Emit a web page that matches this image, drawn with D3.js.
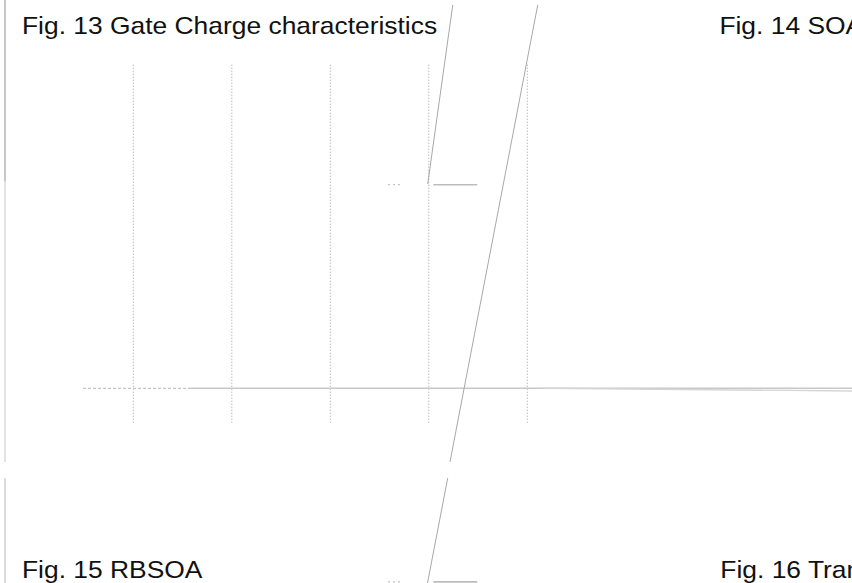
<!DOCTYPE html>
<html>
<head>
<meta charset="utf-8">
<script src="https://cdn.jsdelivr.net/npm/d3@7"></script>
<style>
  html, body { margin: 0; padding: 0; background: #fff; }
  svg { display: block; }
  text { font-family: "Liberation Sans", Arial, sans-serif; fill: #111; }
</style>
</head>
<body>
<svg id="page" width="852" height="583"></svg>
<script>
// Figure captions
const captions = [
  { text: "Fig. 13 Gate Charge characteristics", u: -0.13, v: 17.4 },
  { text: "Fig. 14 SOA", u: 6.95, v: 17.4 },
  { text: "Fig. 15 RBSOA", u: -0.13, v: -9.3 },
  { text: "Fig. 16 Transient Thermal Impedance", u: 6.96, v: -9.3 }
];

// Vertical grid positions (charge axis units)
const gridValues = [1, 2, 3, 4, 5];
const gridExtent = [-1.7, 15.9];

// Gate-voltage trace pieces: [u, v] pairs
const baselineDashed = [[0.49, 0], [1.555, 0]];
const baselineSolid = [[1.555, 0], [8.3, 0]];
const baselineTail = [[5.16, 0], [8.3, -0.13]];
const plateauDashes = [[3.586, 10.0], [3.735, 10.0]];
const plateauSolid = [[4.046, 10.0], [4.492, 10.0]];
const plateauDashesLow = [[3.586, -9.51], [3.735, -9.51]];
const plateauSolidLow = [[4.046, -9.51], [4.492, -9.51]];
const riseA = [[4.243, 18.83], [3.989, 10.03]];
const riseB = [[5.106, 18.83], [4.215, -3.62]];
const riseC = [[4.192, -4.41], [3.987, -9.56]];

// Page margin rule segments
const marginDark = [[-0.3025, 19.1], [-0.3025, 10.16]];
const marginLight = [[-0.3025, 10.16], [-0.3025, -3.62]];
const marginLow = [[-0.3025, -4.41], [-0.3025, -9.7]];

const x = d3.scaleLinear().domain([0, 5]).range([34.8, 527.3]);
const y = d3.scaleLinear().domain([0, 10]).range([388.3, 184.7]);

const svg = d3.select("#page");
const line = d3.line().x(d => x(d[0])).y(d => y(d[1]));

// Margin rule
[[marginDark, "#b9b9b9", 1.6], [marginLight, "#dcdcdc", 1.6], [marginLow, "#d4d4d4", 1.6]]
  .forEach(([pts, c, w]) => svg.append("path").attr("d", line(pts))
    .attr("fill", "none").attr("stroke", c).attr("stroke-width", w));

// Dotted vertical grid
svg.append("g").selectAll("line").data(gridValues).join("line")
  .attr("x1", d => x(d)).attr("x2", d => x(d))
  .attr("y1", y(gridExtent[1])).attr("y2", y(gridExtent[0]))
  .attr("stroke", "#bdbdbd").attr("stroke-width", 1)
  .attr("stroke-dasharray", "1.5,1.5");

// Trace pieces
const pieces = [
  [baselineDashed, "#c4c4c4", 1.2, "3,2"],
  [baselineSolid, "#c8c8c8", 1.6, null],
  [baselineTail, "#d6d6d6", 1.4, null],
  [plateauDashes, "#c4c4c4", 1.2, "2,3"],
  [plateauSolid, "#bdbdbd", 1.6, null],
  [plateauDashesLow, "#c4c4c4", 1.2, "2,3"],
  [plateauSolidLow, "#bdbdbd", 1.6, null],
  [riseA, "#a8a8a8", 1, null],
  [riseB, "#a8a8a8", 1, null],
  [riseC, "#a8a8a8", 1, null]
];
pieces.forEach(([pts, c, w, dash]) => {
  const p = svg.append("path").attr("d", line(pts))
    .attr("fill", "none").attr("stroke", c).attr("stroke-width", w);
  if (dash) p.attr("stroke-dasharray", dash);
});

// Captions (set slightly wide, as in the printed sheet)
svg.append("g").selectAll("text").data(captions).join("text")
  .attr("transform", d => `translate(${x(d.u)},${y(d.v)}) scale(1.1,1)`)
  .attr("font-size", 24)
  .text(d => d.text);
</script>
</body>
</html>
